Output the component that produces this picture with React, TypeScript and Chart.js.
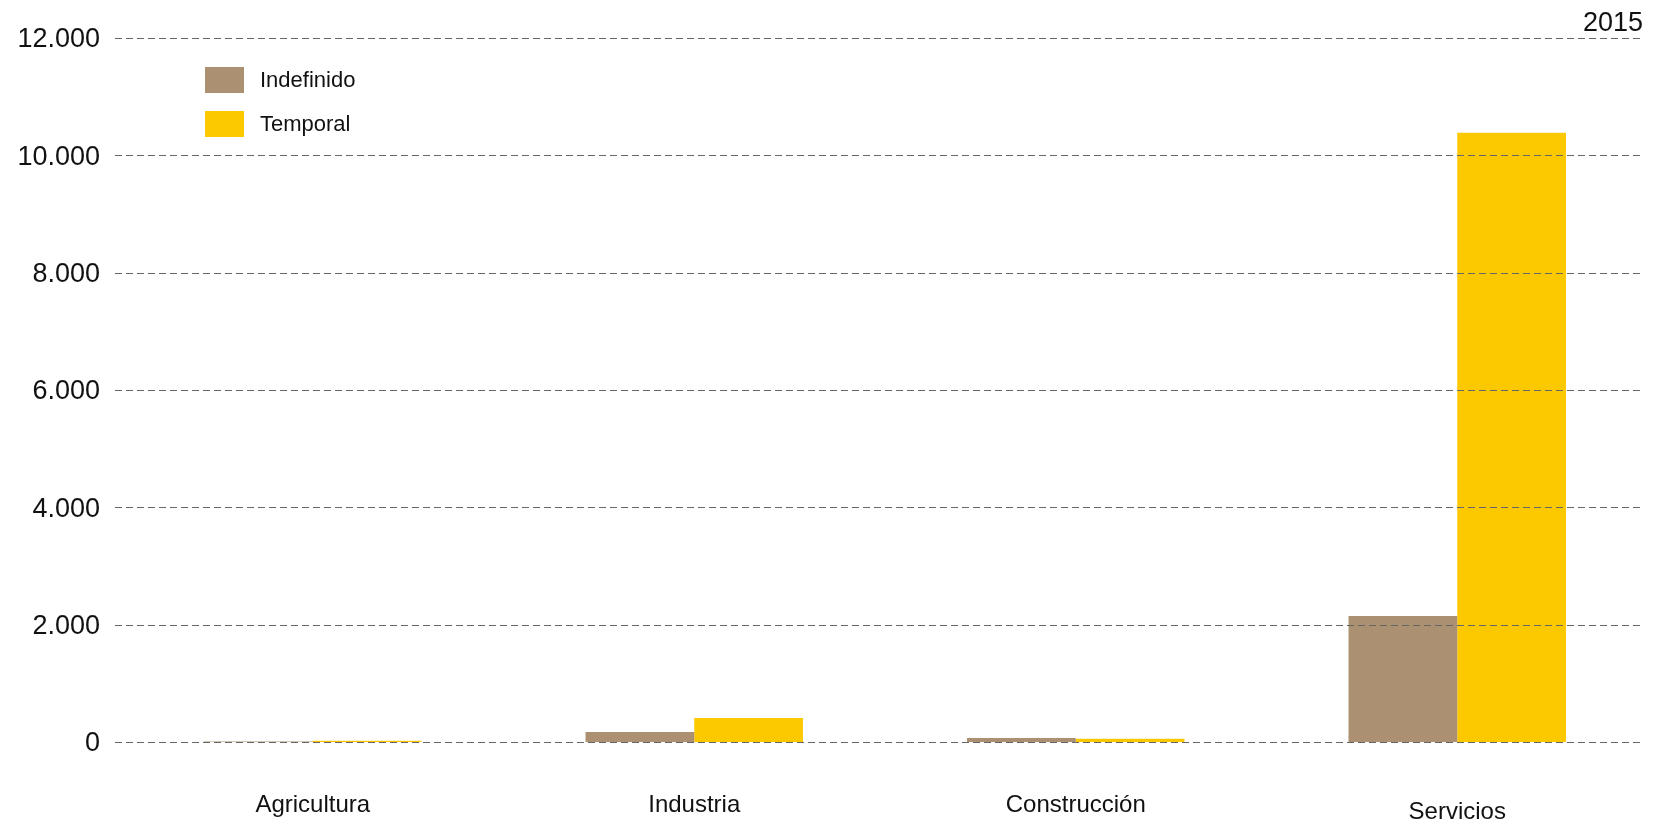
import React, { useEffect, useRef } from "react";
import { Chart, registerables } from "chart.js";

Chart.register(...registerables);

const categories = ["Agricultura", "Industria", "Construcción", "Servicios"];
const indefinido = [8, 171, 68, 2148];
const temporal = [20, 410, 55, 10383];
const seriesLabels = ["Indefinido", "Temporal"];
const seriesColors = ["#AB9172", "#FCC900"];
const yTicks = [0, 2000, 4000, 6000, 8000, 10000, 12000];
const yearLabel = "2015";

const FONT = "'Liberation Sans', Arial, sans-serif";
const GRID_SHIFT = 7;

const overlayPlugin = {
  id: "overlay",
  afterDatasetsDraw(chart: any) {
    const ctx = chart.ctx;
    const y = chart.scales.y;
    const area = chart.chartArea;
    ctx.save();
    ctx.strokeStyle = "#666";
    ctx.lineWidth = 1;
    ctx.setLineDash([7, 4]);
    yTicks.forEach((v) => {
      const py = Math.round(y.getPixelForValue(v)) + 0.5;
      ctx.beginPath();
      ctx.moveTo(area.left - GRID_SHIFT, py);
      ctx.lineTo(area.right - GRID_SHIFT, py);
      ctx.stroke();
    });
    ctx.setLineDash([]);
    ctx.fillStyle = "#111";
    ctx.font = `27px ${FONT}`;
    ctx.textAlign = "right";
    ctx.textBaseline = "middle";
    yTicks.forEach((v) => {
      const py = y.getPixelForValue(v);
      ctx.fillText(v.toLocaleString("de-DE"), area.left - GRID_SHIFT - 15, py + 2);
    });
    ctx.restore();
  },
  afterDraw(chart: any) {
    const ctx = chart.ctx;
    const area = chart.chartArea;
    const x = chart.scales.x;
    ctx.save();
    chart.data.datasets.forEach((ds: any, i: number) => {
      const lx = 205;
      const ly = 67 + i * 44;
      ctx.fillStyle = ds.backgroundColor;
      ctx.fillRect(lx, ly, 39, 26);
      ctx.fillStyle = "#111";
      ctx.font = `22px ${FONT}`;
      ctx.textBaseline = "middle";
      ctx.textAlign = "left";
      ctx.fillText(ds.label, 260, ly + 14);
    });
    ctx.font = `24px ${FONT}`;
    ctx.textAlign = "center";
    ctx.textBaseline = "middle";
    ctx.fillStyle = "#111";
    categories.forEach((c, i) => {
      const px = x.getPixelForTick(i);
      const extra = i === categories.length - 1 ? 7 : 0;
      ctx.fillText(c, px, area.bottom + 63 + extra);
    });
    ctx.font = `27px ${FONT}`;
    ctx.textAlign = "right";
    ctx.textBaseline = "alphabetic";
    ctx.fillText(yearLabel, area.right - GRID_SHIFT + 2, 31);
    ctx.restore();
  },
};

export default function App() {
  const ref = useRef<HTMLCanvasElement>(null);
  useEffect(() => {
    if (!ref.current) return;
    const chart = new Chart(ref.current, {
      type: "bar",
      data: {
        labels: categories,
        datasets: [
          {
            label: seriesLabels[0],
            data: indefinido,
            backgroundColor: seriesColors[0],
            borderWidth: 0,
            categoryPercentage: 0.57,
            barPercentage: 1,
          },
          {
            label: seriesLabels[1],
            data: temporal,
            backgroundColor: seriesColors[1],
            borderWidth: 0,
            categoryPercentage: 0.57,
            barPercentage: 1,
          },
        ],
      },
      options: {
        animation: false,
        responsive: true,
        maintainAspectRatio: false,
        layout: { padding: { left: 0, right: 8, top: 38, bottom: 0 } },
        plugins: {
          legend: { display: false },
          tooltip: { enabled: false },
          title: { display: false },
        },
        scales: {
          x: {
            grid: { display: false },
            border: { display: false },
            afterFit: (scale: any) => {
              scale.height = 79;
            },
            ticks: { display: false },
          },
          y: {
            min: 0,
            max: 12000,
            afterFit: (scale: any) => {
              scale.width = 122;
            },
            afterBuildTicks: (axis: any) => {
              axis.ticks = yTicks.map((v) => ({ value: v }));
            },
            border: { display: false },
            grid: { display: false },
            ticks: { display: false },
          },
        },
      } as any,
      plugins: [overlayPlugin],
    });
    return () => chart.destroy();
  }, []);
  return (
    <div style={{ position: "absolute", left: 0, top: 0, width: 1656, height: 821, background: "#fff" }}>
      <canvas ref={ref} />
    </div>
  );
}
